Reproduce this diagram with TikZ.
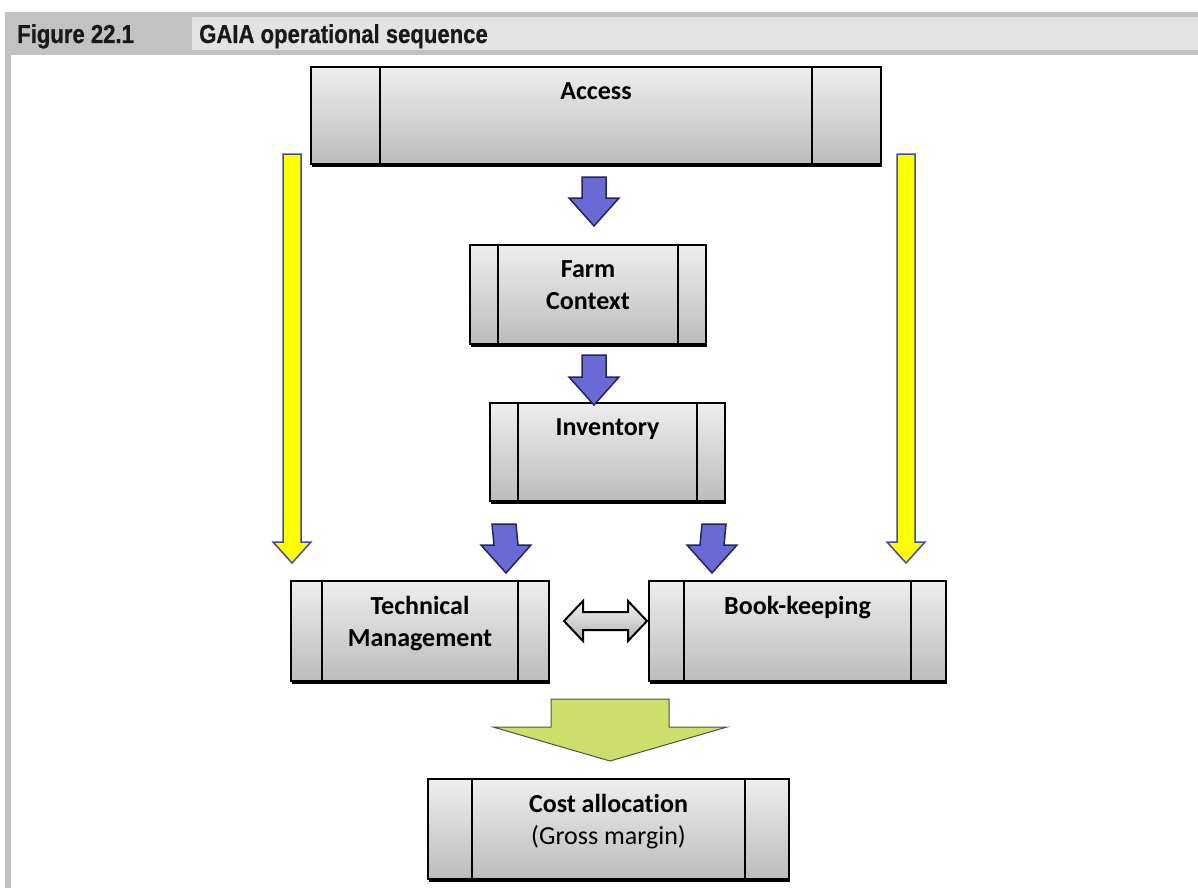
\documentclass[tikz,border=0pt]{standalone}
\usepackage{fontspec}
\setmainfont[Ligatures=NoCommon]{Carlito}
\newfontfamily\headfont[FakeStretch=0.85, BoldFeatures={FakeBold=0.6}]{Liberation Sans}
\usepackage{xcolor}
\usetikzlibrary{calc,shadows}

\definecolor{hdark}{RGB}{194,194,194}
\definecolor{hlight}{RGB}{227,227,227}
\definecolor{boxtop}{RGB}{238,238,238}
\definecolor{boxbot}{RGB}{188,188,188}
\definecolor{bluefill}{RGB}{106,106,212}
\definecolor{blueline}{RGB}{36,36,90}
\definecolor{yellowfill}{RGB}{255,255,0}
\definecolor{yellowline}{RGB}{72,72,160}
\definecolor{greenfill}{RGB}{205,222,106}
\definecolor{greenline}{RGB}{80,80,80}

\begin{document}
\begin{tikzpicture}[x=1pt, y=-1pt,
  box/.style={draw, line width=2pt, anchor=north west, inner sep=0pt,
    top color=boxtop, bottom color=boxbot,
    general shadow={fill=black, shadow xshift=1pt, shadow yshift=-3pt}},
  panel/.style={path picture={
    \draw[line width=2pt]
      ([xshift=#1pt]path picture bounding box.north west) -- ([xshift=#1pt]path picture bounding box.south west)
      ([xshift=-#1pt]path picture bounding box.north east) -- ([xshift=-#1pt]path picture bounding box.south east);}},
  txt/.style={anchor=north, yshift=-16pt, inner sep=0pt, align=center,
    font=\fontsize{26}{32}\selectfont\bfseries},
  head/.style={anchor=base west, inner sep=0pt, text=black!90,
    font=\headfont\bfseries\fontsize{26}{30}\selectfont},
  downarrow/.style n args={3}{to path={
    ($(\tikztostart)+(-#1,0)$) -- ($(\tikztotarget)+(-#1,-#3)$) -- ($(\tikztotarget)+(-#2,-#3)$)
    -- (\tikztotarget) -- ($(\tikztotarget)+(#2,-#3)$) -- ($(\tikztotarget)+(#1,-#3)$)
    -- ($(\tikztostart)+(#1,0)$) -- cycle}},
  bothways/.style n args={3}{to path={
    (\tikztostart) -- ($(\tikztostart)+(#3,-#2)$) -- ($(\tikztostart)+(#3,-#1)$)
    -- ($(\tikztotarget)+(-#3,-#1)$) -- ($(\tikztotarget)+(-#3,-#2)$) -- (\tikztotarget)
    -- ($(\tikztotarget)+(-#3,#2)$) -- ($(\tikztotarget)+(-#3,#1)$)
    -- ($(\tikztostart)+(#3,#1)$) -- ($(\tikztostart)+(#3,#2)$) -- cycle}},
  bluearrow/.style={draw=blueline, fill=bluefill, line width=1.5pt, line join=miter, downarrow={12}{25}{28}},
  yellowarrow/.style={draw=yellowline, fill=yellowfill, line width=1.5pt, line join=miter, downarrow={9}{19}{21}},
  greenarrow/.style={draw=greenline, fill=greenfill, line width=1pt, line join=miter, downarrow={59}{117}{34}},
  grayarrow/.style={draw, line width=2pt, top color=gray!10, bottom color=gray!60, line join=miter, bothways={9}{20}{19}}]
  \useasboundingbox (0,0) rectangle (1198,888);

  % header band and frame
  \fill[hdark] (5,12) rectangle (1198,55);
  \fill[hdark] (5,12) rectangle (11,888);
  \fill[hlight] (192,17) rectangle (1198,50);
  \node[head] (fig) at (17,43) {Figure 22.1};
  \node[head] (title) at (199,43) {GAIA operational sequence};

  % boxes
  \node[box, panel=69, minimum width=570pt, minimum height=97pt, label={[txt]north:Access}] (acc) at (310,66) {};
  \node[box, panel=28, minimum width=236pt, minimum height=99pt, label={[txt]north:Farm\\Context}] (farm) at (469,244) {};
  \node[box, panel=28, minimum width=235pt, minimum height=98pt, label={[txt]north:Inventory}] (inv) at (489,402) {};
  \node[box, panel=31, minimum width=258pt, minimum height=100pt, label={[txt]north:Technical\\Management}] (tech) at (290,580) {};
  \node[box, panel=35, minimum width=297pt, minimum height=100pt, label={[txt]north:Book-keeping}] (book) at (648,580) {};
  \node[box, panel=44, minimum width=361pt, minimum height=100pt,
    label={[txt]north:Cost allocation\\\mdseries(Gross margin)}] (cost) at (427,778) {};

  % arrows
  \path[yellowarrow] ($(acc.south west)+(-18,-11)$) to ($(tech.north west)+(2,-17)$);
  \path[yellowarrow] ($(acc.south east)+(24,-11)$) to ($(book.north east)+(-41,-17)$);
  \path[bluearrow] ($(acc.south)+(-2,12)$) to ($(farm.north)+(6,-18)$);
  \path[bluearrow] ($(farm.south)+(6,10)$) to ($(inv.north)+(-13.5,3)$);
  \path[bluearrow] ($(inv.south west)+(15,22)$) to ($(tech.north east)+(-44,-7)$);
  \path[bluearrow] ($(inv.south east)+(-12,22)$) to ($(book.north west)+(64,-7)$);
  \path[grayarrow] ($(tech.east)+(14,-10)$) to ($(book.west)+(-1,-10)$);
  \path[greenarrow] ($(cost.north |- tech.south)+(1.5,17)$) to ($(cost.north)+(1.5,-17)$);
\end{tikzpicture}
\end{document}
